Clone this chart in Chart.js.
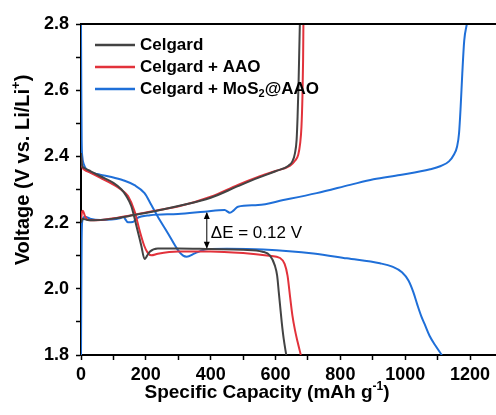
<!DOCTYPE html>
<html>
<head>
<meta charset="utf-8">
<script src="https://cdn.jsdelivr.net/npm/chart.js@4"></script>
<style>
  html, body { margin: 0; padding: 0; background: #fff; }
  #wrap { width: 496px; height: 415px; position: relative; }
</style>
</head>
<body>
<div id="wrap"><canvas id="gcdChart"></canvas></div>
<script>
// Specific capacity (mAh/g) and voltage (V)
const celgardDisX = [0, 3, 10, 30, 60, 100, 125, 140, 155, 171, 186, 196, 204, 212, 237, 300, 400, 500, 560, 583, 598, 605, 610, 614, 619, 625, 633];
const celgardDisV = [2.41, 2.375, 2.365, 2.355, 2.34, 2.32, 2.30, 2.28, 2.25, 2.19, 2.13, 2.09, 2.10, 2.112, 2.122, 2.122, 2.12, 2.118, 2.112, 2.10, 2.07, 2.04, 1.99, 1.95, 1.90, 1.85, 1.80];
const celgardChX = [0, 5, 20, 40, 100, 160, 230, 300, 400, 484, 546, 600, 640, 652, 660, 665, 668, 671, 673, 675];
const celgardChV = [2.20, 2.212, 2.208, 2.207, 2.212, 2.222, 2.235, 2.25, 2.275, 2.31, 2.335, 2.355, 2.372, 2.385, 2.41, 2.45, 2.52, 2.62, 2.71, 2.80];

const aaoDisX = [0, 3, 10, 30, 60, 100, 130, 145, 165, 181, 195, 205, 217, 237, 300, 400, 500, 580, 614, 628, 637, 645, 652, 660, 668, 678];
const aaoDisV = [2.40, 2.37, 2.36, 2.35, 2.335, 2.315, 2.295, 2.28, 2.235, 2.175, 2.13, 2.11, 2.101, 2.106, 2.113, 2.113, 2.108, 2.10, 2.093, 2.075, 2.04, 1.975, 1.92, 1.875, 1.84, 1.80];
const aaoChX = [0, 3, 6, 12, 22, 40, 100, 160, 230, 305, 400, 484, 546, 600, 645, 660, 670, 676, 680, 683, 685, 686];
const aaoChV = [2.205, 2.232, 2.236, 2.22, 2.208, 2.207, 2.213, 2.223, 2.236, 2.25, 2.278, 2.314, 2.338, 2.356, 2.372, 2.387, 2.405, 2.44, 2.49, 2.58, 2.69, 2.80];

const mosDisX = [0, 1, 2, 4, 8, 22, 59, 94, 130, 165, 196, 217, 237, 268, 299, 315, 326, 351, 392, 450, 562, 717, 820, 922, 960, 990, 1010, 1025, 1038, 1050, 1060, 1075, 1092, 1113];
const mosDisV = [2.80, 2.60, 2.45, 2.40, 2.378, 2.356, 2.345, 2.338, 2.328, 2.313, 2.289, 2.253, 2.218, 2.168, 2.117, 2.100, 2.097, 2.107, 2.120, 2.121, 2.119, 2.107, 2.092, 2.077, 2.067, 2.05, 2.025, 1.99, 1.95, 1.916, 1.893, 1.858, 1.83, 1.80];
const mosChX = [0, 1, 2, 4, 12, 28, 59, 120, 130, 145, 160, 172, 213, 299, 381, 443, 459, 470, 484, 546, 624, 727, 830, 902, 984, 1077, 1110, 1135, 1150, 1160, 1166, 1171, 1176, 1182, 1190];
const mosChV = [1.80, 2.00, 2.15, 2.205, 2.218, 2.212, 2.208, 2.213, 2.217, 2.201, 2.202, 2.213, 2.222, 2.226, 2.233, 2.238, 2.230, 2.236, 2.248, 2.253, 2.268, 2.289, 2.314, 2.331, 2.344, 2.361, 2.371, 2.385, 2.405, 2.43, 2.47, 2.55, 2.65, 2.75, 2.80];

const seriesNames = ['Celgard', 'Celgard + AAO', 'Celgard + MoS2@AAO'];
const seriesColors = ['#434343', '#e2323b', '#1f6fd8'];

const xTicks = [0, 100, 200, 300, 400, 500, 600, 700, 800, 900, 1000, 1100, 1200];
const yTicks = [1.8, 1.9, 2.0, 2.1, 2.2, 2.3, 2.4, 2.5, 2.6, 2.7, 2.8];

function pts(xs, ys) {
    return xs.map((x, i) => ({ x: x, y: ys[i] }));
}

function curve(xs, ys, color) {
    return {
        data: pts(xs, ys),
        borderColor: color,
        borderWidth: 2,
        pointRadius: 0,
        fill: false,
        cubicInterpolationMode: 'monotone'
    };
}

const datasets = [
    curve(celgardDisX, celgardDisV, seriesColors[0]),
    curve(celgardChX, celgardChV, seriesColors[0]),
    curve(aaoDisX, aaoDisV, seriesColors[1]),
    curve(aaoChX, aaoChV, seriesColors[1]),
    curve(mosDisX, mosDisV, seriesColors[2]),
    curve(mosChX, mosChV, seriesColors[2])
];

// draws the rich-text titles, legend, top frame and the ΔE marker
const decorations = {
    id: 'decorations',
    afterDraw(chart) {
        const ctx = chart.ctx;
        const area = chart.chartArea;
        const xs = chart.scales.x, ys = chart.scales.y;
        ctx.save();

        // top frame line
        ctx.strokeStyle = '#000';
        ctx.lineWidth = 2;
        ctx.beginPath();
        ctx.moveTo(area.left - 1, area.top);
        ctx.lineTo(area.right, area.top);
        ctx.stroke();

        // legend
        ctx.textBaseline = 'middle';
        ctx.textAlign = 'left';
        const legY = [45, 67, 89];
        seriesNames.forEach((name, i) => {
            ctx.strokeStyle = seriesColors[i];
            ctx.lineWidth = 2.5;
            ctx.beginPath();
            ctx.moveTo(95, legY[i]);
            ctx.lineTo(135, legY[i]);
            ctx.stroke();
            ctx.fillStyle = '#000';
            ctx.font = 'bold 17px "Liberation Sans", Arial, sans-serif';
            if (name.indexOf('MoS2') >= 0) {
                let x = 140;
                const a = 'Celgard + MoS';
                ctx.fillText(a, x, legY[i]);
                x += ctx.measureText(a).width;
                ctx.font = 'bold 11px "Liberation Sans", Arial, sans-serif';
                ctx.fillText('2', x, legY[i] + 5);
                x += ctx.measureText('2').width;
                ctx.font = 'bold 17px "Liberation Sans", Arial, sans-serif';
                ctx.fillText('@AAO', x, legY[i]);
            } else {
                ctx.fillText(name, 140, legY[i]);
            }
        });

        // ΔE arrow
        const ax = xs.getPixelForValue(388);
        const yTop = ys.getPixelForValue(2.232);
        const yBot = ys.getPixelForValue(2.121);
        ctx.strokeStyle = '#000';
        ctx.fillStyle = '#000';
        ctx.lineWidth = 1;
        ctx.beginPath();
        ctx.moveTo(ax, yTop + 1);
        ctx.lineTo(ax, yBot - 1);
        ctx.stroke();
        ctx.beginPath();
        ctx.moveTo(ax, yTop);
        ctx.lineTo(ax - 3, yTop + 7);
        ctx.lineTo(ax + 3, yTop + 7);
        ctx.closePath();
        ctx.fill();
        ctx.beginPath();
        ctx.moveTo(ax, yBot);
        ctx.lineTo(ax - 3, yBot - 7);
        ctx.lineTo(ax + 3, yBot - 7);
        ctx.closePath();
        ctx.fill();
        ctx.font = '17px "Liberation Sans", Arial, sans-serif';
        ctx.textBaseline = 'alphabetic';
        ctx.fillText('\u0394E = 0.12 V', ax + 4, 238);

        // x axis title
        ctx.font = 'bold 19px "Liberation Sans", Arial, sans-serif';
        const t1 = 'Specific Capacity (mAh g', t2 = '-1', t3 = ')';
        const w1 = ctx.measureText(t1).width;
        const w3 = ctx.measureText(t3).width;
        ctx.font = 'bold 12px "Liberation Sans", Arial, sans-serif';
        const w2 = ctx.measureText(t2).width;
        let xx = 267 - (w1 + w2 + w3) / 2;
        const base = 398;
        ctx.font = 'bold 19px "Liberation Sans", Arial, sans-serif';
        ctx.fillText(t1, xx, base);
        xx += w1;
        ctx.font = 'bold 12px "Liberation Sans", Arial, sans-serif';
        ctx.fillText(t2, xx, base - 8);
        xx += w2;
        ctx.font = 'bold 19px "Liberation Sans", Arial, sans-serif';
        ctx.fillText(t3, xx, base);

        // y axis title (rotated)
        ctx.save();
        ctx.translate(29, 170);
        ctx.rotate(-Math.PI / 2);
        ctx.font = 'bold 20px "Liberation Sans", Arial, sans-serif';
        const s1 = 'Voltage (V vs. Li/Li', s2 = '+', s3 = ')';
        const v1 = ctx.measureText(s1).width;
        const v3 = ctx.measureText(s3).width;
        ctx.font = 'bold 13px "Liberation Sans", Arial, sans-serif';
        const v2 = ctx.measureText(s2).width;
        let yy = -(v1 + v2 + v3) / 2;
        ctx.font = 'bold 20px "Liberation Sans", Arial, sans-serif';
        ctx.fillText(s1, yy, 0);
        yy += v1;
        ctx.font = 'bold 13px "Liberation Sans", Arial, sans-serif';
        ctx.fillText(s2, yy, -9);
        yy += v2;
        ctx.font = 'bold 20px "Liberation Sans", Arial, sans-serif';
        ctx.fillText(s3, yy, 0);
        ctx.restore();

        ctx.restore();
    }
};

const ctx = document.getElementById('gcdChart').getContext('2d');
const gcdChart = new Chart(ctx, {
    type: 'line',
    data: { datasets: datasets },
    options: {
        responsive: true,
        maintainAspectRatio: false,
        animation: false,
        layout: { padding: { top: 24, right: 0, left: 0, bottom: 0 } },
        scales: {
            x: {
                type: 'linear',
                min: 0,
                max: 1280,
                afterBuildTicks: s => { s.ticks = xTicks.map(v => ({ value: v })); },
                afterFit: s => { s.height = 60; },
                border: { color: '#000', width: 2 },
                grid: { drawOnChartArea: false, tickLength: 5, tickColor: '#000', tickWidth: 1.5 },
                ticks: {
                    color: '#000',
                    padding: 4,
                    maxRotation: 0,
                    autoSkip: false,
                    font: { family: '"Liberation Sans", Arial, sans-serif', size: 18, weight: 'bold' },
                    callback: v => (v % 200 === 0 ? String(v) : '')
                }
            },
            y: {
                min: 1.8,
                max: 2.8,
                afterBuildTicks: s => { s.ticks = yTicks.map(v => ({ value: v })); },
                afterFit: s => { s.width = 81; },
                border: { color: '#000', width: 2 },
                grid: { drawOnChartArea: false, tickLength: 5, tickColor: '#000', tickWidth: 1.5 },
                ticks: {
                    color: '#000',
                    padding: 7,
                    autoSkip: false,
                    font: { family: '"Liberation Sans", Arial, sans-serif', size: 18, weight: 'bold' },
                    callback: v => (Math.round(v * 10) % 2 === 0 ? v.toFixed(1) : '')
                }
            }
        },
        plugins: {
            legend: { display: false },
            tooltip: { enabled: false }
        }
    },
    plugins: [decorations]
});
</script>
</body>
</html>
